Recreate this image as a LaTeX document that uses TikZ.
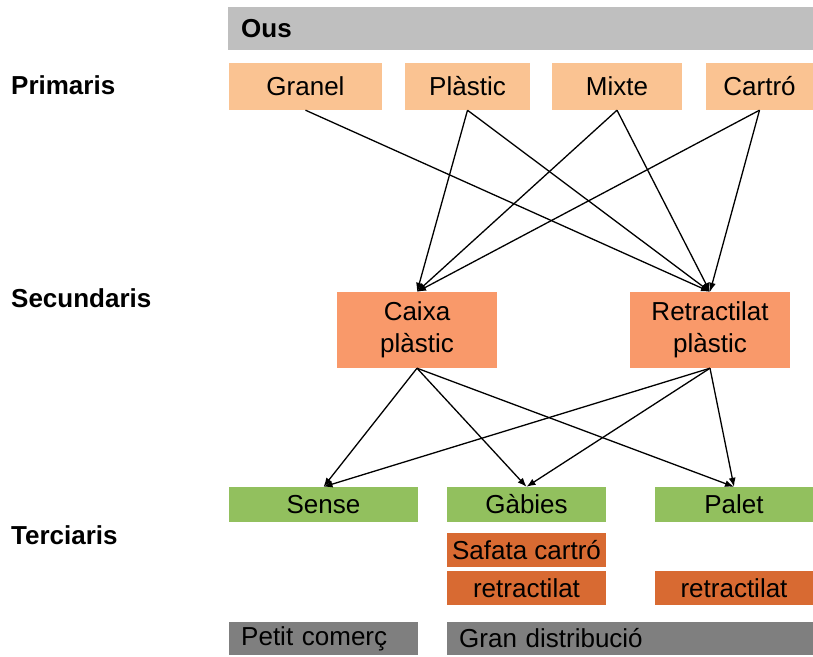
\documentclass[tikz,border=0pt]{standalone}
\usepackage{fontspec}
\setmainfont{Liberation Sans}
\usetikzlibrary{arrows.meta}
\definecolor{bargray}{HTML}{BFBFBF}
\definecolor{peach}{HTML}{FAC392}
\definecolor{salmon}{HTML}{F9996A}
\definecolor{leaf}{HTML}{92C05E}
\definecolor{rust}{HTML}{D86A32}
\definecolor{slate}{HTML}{7F7F7F}
\tikzset{
  lvl/.style={font=\bfseries\fontsize{26}{31}\selectfont, anchor=west, inner sep=0pt},
  cell/.style={inner sep=0pt, font=\fontsize{26}{32}\selectfont, align=center},
  prim/.style={cell, fill=peach, minimum height=47pt},
  sec/.style={cell, fill=salmon, minimum width=160pt, minimum height=76pt},
  ter/.style={cell, fill=leaf, minimum height=35pt},
  pack/.style={cell, fill=rust, minimum height=34pt},
  chan/.style={inner xsep=12pt, inner ysep=0pt, fill=slate, minimum height=33pt,
               font=\fontsize{26}{31}\selectfont, align=left, anchor=west},
  link/.style={-{Latex[length=9pt,width=7pt]}, line width=1.3pt, black}
}
\begin{document}
\begin{tikzpicture}[x=1pt,y=-1pt]
\useasboundingbox (0,0) rectangle (813,656);

% header bar
\node[anchor=west, fill=bargray, inner xsep=13pt, inner ysep=0pt, minimum height=43pt,
      text width=559pt, align=left, font=\bfseries\fontsize{26}{31}\selectfont]
  (ous) at (228,28.5) {Ous};

% level labels
\node[lvl] (lprim) at (11,85) {Primaris};
\node[lvl] (lsec) at (11,298) {Secundaris};
\node[lvl] (lter) at (11,535) {Terciaris};

% primary packaging
\node[prim, minimum width=153pt] (granel) at (305.5,86.5) {Granel};
\node[prim, minimum width=125pt] (plastic) at (467.5,86.5) {Plàstic};
\node[prim, minimum width=130pt] (mixte) at (617,86.5) {Mixte};
\node[prim, minimum width=107pt] (cartro) at (759.5,86.5) {Cartró};

% secondary packaging
\node[sec] (caixa) at (417,330) {Caixa\\plàstic};
\node[sec] (retr) at (710,330) {Retractilat\\plàstic};

% tertiary packaging
\node[ter, minimum width=189pt] (sense) at (323.5,504.5) {Sense};
\node[ter, minimum width=159pt] (gabies) at (526.5,504.5) {Gàbies};
\node[ter, minimum width=158pt] (palet) at (734,504.5) {Palet};

\node[pack, minimum width=159pt] (safata) at (526.5,550) {Safata cartró};
\node[pack, minimum width=159pt] (retra) at (526.5,588) {retractilat};
\node[pack, minimum width=158pt] (retrb) at (734,588) {retractilat};

% distribution channels
\node[chan, minimum width=189pt, text width=165pt] (petit) at (229,638.5) {Petit comerç};
\node[chan, minimum width=366pt, text width=342pt] (gran) at (447,638.5) {Gran distribució};

% connectors
\draw[link] (granel.south) -- (retr.north);
\foreach \s in {plastic,mixte,cartro} {
  \draw[link] (\s.south) -- (caixa.north);
  \draw[link] (\s.south) -- (retr.north);
}
\foreach \s in {caixa,retr} {
  \draw[link] (\s.south) -- (sense.north);
  \draw[link] (\s.south) -- (gabies.north);
  \draw[link] (\s.south) -- (palet.north);
}
\end{tikzpicture}
\end{document}
